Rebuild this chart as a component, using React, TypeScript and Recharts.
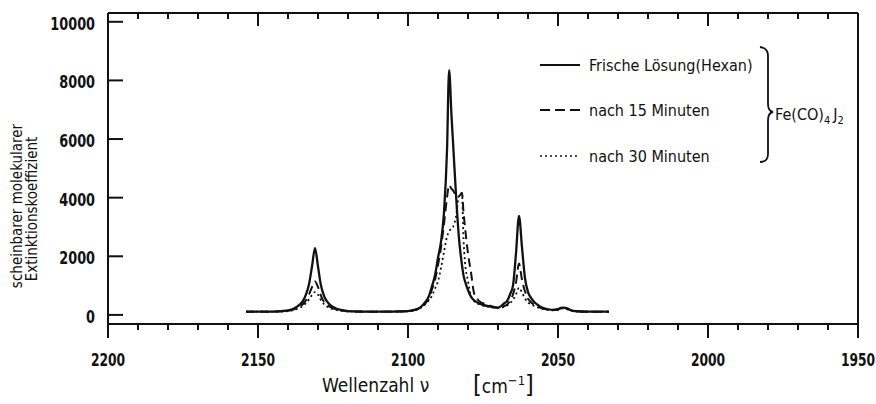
import React from 'react';
import { LineChart, Line, XAxis, YAxis, ReferenceLine } from 'recharts';

// wavenumber grid (cm-1) and apparent molar extinction
const wavenumbers = [
  2154, 2150, 2145, 2142, 2140, 2138, 2136, 2135, 2134, 2133, 2132, 2131, 2130, 2129, 2128, 2127,
  2126, 2124, 2122, 2120, 2115, 2110, 2105, 2100, 2098, 2096, 2094, 2093, 2092, 2091, 2090, 2089,
  2088, 2087, 2086.3, 2085.5, 2085, 2084, 2083, 2082, 2081.5, 2081, 2080, 2079, 2078, 2077, 2076,
  2075, 2073, 2071, 2070, 2069, 2068, 2067, 2066, 2065, 2064, 2063, 2062, 2061, 2060, 2059, 2058,
  2057, 2056, 2054, 2052, 2050, 2049, 2048, 2047, 2046, 2044, 2040, 2033,
];
const fresh = [
  110, 110, 115, 130, 155, 220, 360, 480, 700, 1050, 1650, 2280, 1650, 1000, 650, 460,
  340, 220, 160, 130, 115, 110, 115, 130, 170, 250, 470, 650, 980, 1350, 1950, 2500,
  3500, 5600, 8350, 6800, 5900, 4100, 2600, 1700, 1350, 1150, 850, 620, 500, 430, 380,
  340, 290, 255, 250, 300, 390, 470, 700, 1000, 2100, 3380, 2300, 1250, 780, 580, 450,
  360, 290, 210, 175, 200, 240, 250, 225, 175, 125, 110, 110,
];
const after15 = [
  110, 110, 112, 125, 140, 190, 290, 370, 500, 700, 950, 1140, 950, 650, 450, 340,
  270, 190, 150, 125, 112, 110, 113, 125, 160, 240, 420, 580, 880, 1200, 1700, 2300,
  3100, 4000, 4430, 4300, 4250, 4080, 4050, 4160, 3500, 3000, 2100, 1450, 750, 560, 450,
  400, 320, 260, 240, 260, 300, 350, 480, 700, 1100, 1750, 1200, 800, 550, 430, 350,
  300, 250, 190, 165, 185, 225, 235, 210, 165, 120, 110, 110,
];
const after30 = [
  110, 110, 112, 120, 130, 170, 250, 310, 400, 530, 680, 780, 690, 500, 370, 290,
  230, 170, 140, 120, 112, 110, 112, 120, 150, 220, 390, 500, 660, 900, 1150, 1600,
  2150, 2670, 2850, 2950, 3000, 3350, 4080, 4150, 2600, 1800, 1150, 650, 480, 400, 350,
  320, 280, 240, 230, 240, 270, 320, 400, 520, 700, 930, 760, 560, 430, 360, 310,
  270, 230, 180, 155, 175, 210, 220, 200, 160, 120, 110, 110,
];

const yTicks = [0, 2000, 4000, 6000, 8000, 10000];
const xTicks = [
  2200, 2190, 2180, 2170, 2160, 2150, 2140, 2130, 2120, 2110, 2100, 2090, 2080,
  2070, 2060, 2050, 2040, 2030, 2020, 2010, 2000, 1990, 1980, 1970, 1960, 1950,
];
const xLabels = [2200, 2150, 2100, 2050, 2000, 1950];

const Y_MIN = -310;
const Y_MAX = 10300;

const rows = wavenumbers.map((w, i) => ({
  w,
  fresh: fresh[i],
  m15: after15[i],
  m30: after30[i],
}));

const W = 876;
const H = 404;
const PLOT_TOP = 13;
const PLOT_BOTTOM = 324;
const PLOT_LEFT = 108;

const INK = '#111';
const FONT = "'DejaVu Sans Condensed', 'DejaVu Sans', sans-serif";

const XTick = (props: any) => {
  const { x, payload } = props;
  const major = xLabels.includes(payload.value);
  return (
    <g>
      <line x1={x} x2={x} y1={PLOT_BOTTOM} y2={PLOT_BOTTOM + (major ? 14 : 6)} stroke={INK} strokeWidth={2} />
      <line x1={x} x2={x} y1={PLOT_TOP} y2={PLOT_TOP + (major ? 13 : 6)} stroke={INK} strokeWidth={2} />
      {major && (
        <text
          transform={`translate(${x} ${PLOT_BOTTOM + 42}) scale(0.76 1)`}
          textAnchor="middle"
          fontFamily={FONT}
          fontWeight="bold"
          fontSize={18}
          fill={INK}
        >
          {payload.value}
        </text>
      )}
    </g>
  );
};

const YTick = (props: any) => {
  const { y, payload } = props;
  return (
    <g>
      <line x1={PLOT_LEFT} x2={PLOT_LEFT + 15} y1={y} y2={y} stroke={INK} strokeWidth={2} />
      <text
        transform={`translate(95 ${y + 8}) scale(0.84 1)`}
        textAnchor="end"
        fontFamily={FONT}
        fontWeight="bold"
        fontSize={17}
        fill={INK}
      >
        {payload.value}
      </text>
    </g>
  );
};

export default function App() {
  return (
    <div style={{ position: 'absolute', left: 0, top: 0, width: W, height: H, background: '#fff' }}>
      <LineChart width={W} height={H} data={rows} margin={{ top: PLOT_TOP, right: 18, bottom: 0, left: 0 }}>
        <XAxis
          dataKey="w"
          type="number"
          domain={[1950, 2200]}
          reversed
          allowDataOverflow
          ticks={xTicks}
          interval={0}
          height={80}
          tickLine={false}
          tickSize={0}
          tick={<XTick />}
          axisLine={{ stroke: INK, strokeWidth: 2 }}
        />
        <YAxis
          type="number"
          domain={[Y_MIN, Y_MAX]}
          allowDataOverflow
          ticks={yTicks}
          interval={0}
          width={108}
          tickLine={false}
          tickSize={0}
          tick={<YTick />}
          axisLine={{ stroke: INK, strokeWidth: 2 }}
        />
        <ReferenceLine y={Y_MAX} stroke={INK} strokeWidth={2} />
        <ReferenceLine x={1950} stroke={INK} strokeWidth={2} />
        <Line type="monotone" dataKey="fresh" stroke={INK} strokeWidth={2.3} dot={false} isAnimationActive={false} />
        <Line type="monotone" dataKey="m15" stroke={INK} strokeWidth={2} strokeDasharray="9 5" dot={false} isAnimationActive={false} />
        <Line type="monotone" dataKey="m30" stroke={INK} strokeWidth={1.8} strokeDasharray="2 3" dot={false} isAnimationActive={false} />
      </LineChart>
      <svg width={W} height={H} style={{ position: 'absolute', left: 0, top: 0, pointerEvents: 'none' }}>
        <g fontFamily={FONT} fontSize={16} fill={INK}>
          <line x1={540} x2={580} y1={65} y2={65} stroke={INK} strokeWidth={2} />
          <line x1={540} x2={582} y1={110} y2={110} stroke={INK} strokeWidth={2} strokeDasharray="10 5" />
          <line x1={540} x2={580} y1={156} y2={156} stroke={INK} strokeWidth={1.6} strokeDasharray="2 3" />
          <text x={589} y={65} dominantBaseline="central">Frische Lösung(Hexan)</text>
          <text x={589} y={110} dominantBaseline="central">nach 15 Minuten</text>
          <text x={589} y={156} dominantBaseline="central">nach 30 Minuten</text>
          <path
            d="M 760 47 Q 768 48 768 56 L 768 104 Q 768 111 773 112 Q 768 113 768 120 L 768 154 Q 768 162 760 162"
            fill="none"
            stroke={INK}
            strokeWidth={1.8}
          />
          <text x={775} y={120}>
            Fe(CO)
            <tspan fontSize={11} dy={4}>4</tspan>
            <tspan dx={3} dy={-4}>J</tspan>
            <tspan fontSize={11} dy={4}>2</tspan>
          </text>
        </g>
        <g fontFamily={FONT} fill={INK}>
          <text x={322} y={392} fontSize={19}>Wellenzahl ν</text>
          <text x={473} y={393} fontSize={19}>
            <tspan fontSize={25}>[</tspan>
            <tspan>cm</tspan>
            <tspan fontSize={13} dy={-8}>−1</tspan>
            <tspan fontSize={25} dy={8}>]</tspan>
          </text>
        </g>
        <g fontFamily={FONT} fontSize={15} fill={INK} textAnchor="middle">
          <text transform="translate(22 206) rotate(-90)">scheinbarer molekularer</text>
          <text transform="translate(37 209) rotate(-90)">Extinktionskoeffizient</text>
        </g>
      </svg>
    </div>
  );
}
